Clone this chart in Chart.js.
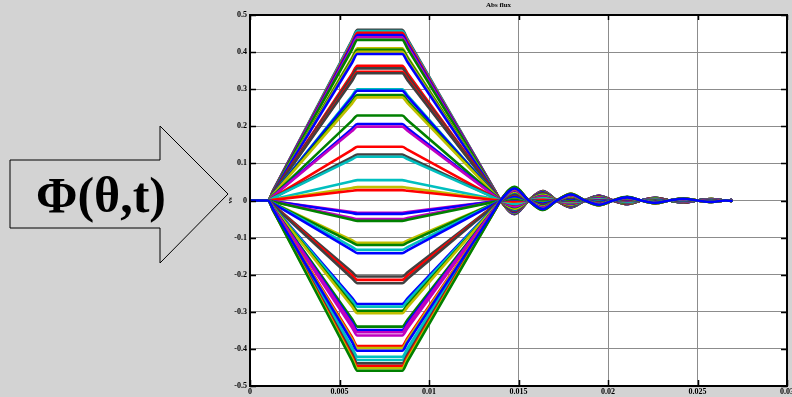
<!DOCTYPE html>
<html>
<head>
<meta charset="utf-8">
<script src="https://cdn.jsdelivr.net/npm/chart.js@4.4.0/dist/chart.umd.min.js"></script>
<style>
  html, body { margin: 0; padding: 0; background: #d3d3d3; }
  #wrap { position: relative; width: 792px; height: 397px; }
</style>
</head>
<body>
<div id="wrap"><canvas id="c" width="792" height="397"></canvas></div>
<script>
// Common time profile of the flux traces (s) and its shape as a fraction of each trace's plateau
const profileTime = [0, 0.001, 0.0013, 0.0057, 0.006, 0.0085, 0.0088, 0.0137, 0.014,
  0.01479, 0.01557, 0.01636, 0.01714, 0.01793, 0.01871, 0.0195, 0.02028, 0.02107,
  0.02185, 0.02264, 0.02342, 0.02421, 0.02499, 0.02578, 0.02656, 0.0269];
const profileShape = [0, 0, 0.06, 0.94, 1, 1, 0.945, 0.055, 0,
  -0.08, 0, 0.056, 0, -0.04, 0, 0.028, 0, -0.021,
  0, 0.016, 0, -0.012, 0, 0.009, 0, 0.003];

// Plateau level of each trace, one per angular position (later entries are painted over earlier ones)
const plateauLevels = [
  0.460, 0.457, 0.452, 0.446, 0.440, 0.433, 0.410, 0.406, 0.401, 0.395,
  0.363, 0.356, 0.347, 0.343, 0.300, 0.296, 0.284, 0.278, 0.229, 0.206,
  0.199, 0.145, 0.124, 0.118, 0.055, 0.036, 0.028,
  -0.033, -0.036, -0.050, -0.055, -0.114, -0.120, -0.133, -0.142, -0.205,
  -0.214, -0.223, -0.279, -0.286, -0.297, -0.304, -0.340, -0.349, -0.355,
  -0.364, -0.392, -0.398, -0.421, -0.430, -0.439, -0.446, -0.452, -0.459, -0.405
];
const traceColors = [
  'k', 'c', 'r', 'b', 'm', 'g', 'y', 'g', 'y', 'b',
  'r', 'k', 'r', 'k', 'c', 'b', 'g', 'y', 'g', 'b',
  'm', 'r', 'k', 'c', 'c', 'y', 'r',
  'm', 'b', 'm', 'g', 'y', 'g', 'c', 'b', 'k',
  'r', 'k', 'b', 'c', 'g', 'y', 'g', 'b', 'm',
  'm', 'r', 'y', 'c', 'c', 'k', 'r', 'y', 'g', 'b'
];
const colorCodes = { b: '#0000ff', g: '#008000', r: '#ff0000', c: '#00bfbf', m: '#bf00bf', y: '#bfbf00', k: '#404040' };

const xTickValues = [0, 0.005, 0.01, 0.015, 0.02, 0.025, 0.03];
const xTickLabels = ['0', '0.005', '0.01', '0.015', '0.02', '0.025', '0.03'];
const yTickValues = [-0.5, -0.4, -0.3, -0.2, -0.1, 0, 0.1, 0.2, 0.3, 0.4, 0.5];
const yTickLabels = ['-0.5', '-0.4', '-0.3', '-0.2', '-0.1', '0', '0.1', '0.2', '0.3', '0.4', '0.5'];

// Chart.js paints dataset 0 last, so the list is reversed to keep later traces on top
const datasets = plateauLevels.map((level, i) => ({
  data: profileTime.map((t, k) => ({ x: t, y: level * profileShape[k] })),
  borderColor: colorCodes[traceColors[i]],
  borderWidth: 2.6,
  pointRadius: 0,
  cubicInterpolationMode: 'monotone',
  borderJoinStyle: 'round',
  borderCapStyle: 'round',
  fill: false
})).reverse();

const tickFont = { family: "'Liberation Serif', 'Times New Roman', serif", size: 8, weight: 'bold' };

// Light grey page, white plot area, arrow with the flux symbol
const backdrop = {
  id: 'backdrop',
  beforeDraw(chart) {
    const { ctx, chartArea: a } = chart;
    ctx.save();
    ctx.fillStyle = '#d3d3d3';
    ctx.fillRect(0, 0, chart.width, chart.height);
    ctx.fillStyle = '#ffffff';
    ctx.fillRect(a.left, a.top, a.right - a.left, a.bottom - a.top);

    ctx.beginPath();
    ctx.moveTo(10, 160);
    ctx.lineTo(160, 160);
    ctx.lineTo(160, 126);
    ctx.lineTo(228, 194);
    ctx.lineTo(160, 263);
    ctx.lineTo(160, 228);
    ctx.lineTo(10, 228);
    ctx.closePath();
    ctx.strokeStyle = '#000';
    ctx.lineWidth = 1;
    ctx.stroke();

    ctx.fillStyle = '#000';
    ctx.font = "bold 50px 'Liberation Serif', 'Times New Roman', serif";
    ctx.textAlign = 'center';
    ctx.textBaseline = 'middle';
    ctx.fillText('\u03A6(\u03B8,t)', 101, 199);
    ctx.restore();
  }
};

// Box round the axes and inward tick marks
const axesBox = {
  id: 'axesBox',
  afterDraw(chart) {
    const { ctx, chartArea: a, scales } = chart;
    ctx.save();
    ctx.strokeStyle = '#000';
    ctx.lineWidth = 1.5;
    ctx.beginPath();
    xTickValues.forEach(v => {
      const px = Math.round(scales.x.getPixelForValue(v)) + 0.5;
      ctx.moveTo(px, a.bottom); ctx.lineTo(px, a.bottom - 6);
      ctx.moveTo(px, a.top); ctx.lineTo(px, a.top + 5);
    });
    yTickValues.forEach(v => {
      const py = Math.round(scales.y.getPixelForValue(v)) + 0.5;
      ctx.moveTo(a.left, py); ctx.lineTo(a.left + 6, py);
      ctx.moveTo(a.right, py); ctx.lineTo(a.right - 6, py);
    });
    ctx.stroke();
    ctx.lineWidth = 2;
    ctx.strokeRect(a.left, a.top, a.right - a.left, a.bottom - a.top);
    ctx.restore();
  }
};

new Chart(document.getElementById('c'), {
  type: 'line',
  data: { datasets },
  plugins: [backdrop, axesBox],
  options: {
    responsive: false,
    devicePixelRatio: 1,
    animation: false,
    parsing: false,
    events: [],
    layout: { padding: { left: 210, right: 5, top: 0, bottom: 0 } },
    plugins: {
      legend: { display: false },
      tooltip: { enabled: false },
      title: {
        display: true,
        text: 'Abs flux',
        color: '#000',
        font: { family: "'Liberation Serif', 'Times New Roman', serif", size: 7, weight: 'bold', lineHeight: 1 },
        padding: { top: 2, bottom: 6 }
      }
    },
    scales: {
      x: {
        type: 'linear',
        min: 0,
        max: 0.03,
        afterBuildTicks(s) { s.ticks = xTickValues.map(v => ({ value: v })); },
        afterFit(s) { s.height = 11; s.paddingLeft = 0; s.paddingRight = 0; },
        ticks: {
          autoSkip: false,
          maxRotation: 0,
          padding: 1,
          color: '#000',
          font: tickFont,
          callback: (v, i) => xTickLabels[i]
        },
        grid: { color: '#8c8c8c', lineWidth: 1, drawTicks: false },
        border: { display: false }
      },
      y: {
        type: 'linear',
        min: -0.5,
        max: 0.5,
        afterBuildTicks(s) { s.ticks = yTickValues.map(v => ({ value: v })); },
        afterFit(s) { s.width = 40; s.paddingTop = 0; s.paddingBottom = 0; },
        ticks: {
          autoSkip: false,
          padding: 3,
          color: '#000',
          font: tickFont,
          callback: (v, i) => yTickLabels[i]
        },
        title: {
          display: true,
          text: 'vs',
          color: '#000',
          font: { family: "'Liberation Serif', 'Times New Roman', serif", size: 7, weight: 'bold' },
          padding: { top: 16, bottom: 0 }
        },
        grid: { color: '#8c8c8c', lineWidth: 1, drawTicks: false },
        border: { display: false }
      }
    }
  }
});
</script>
</body>
</html>
